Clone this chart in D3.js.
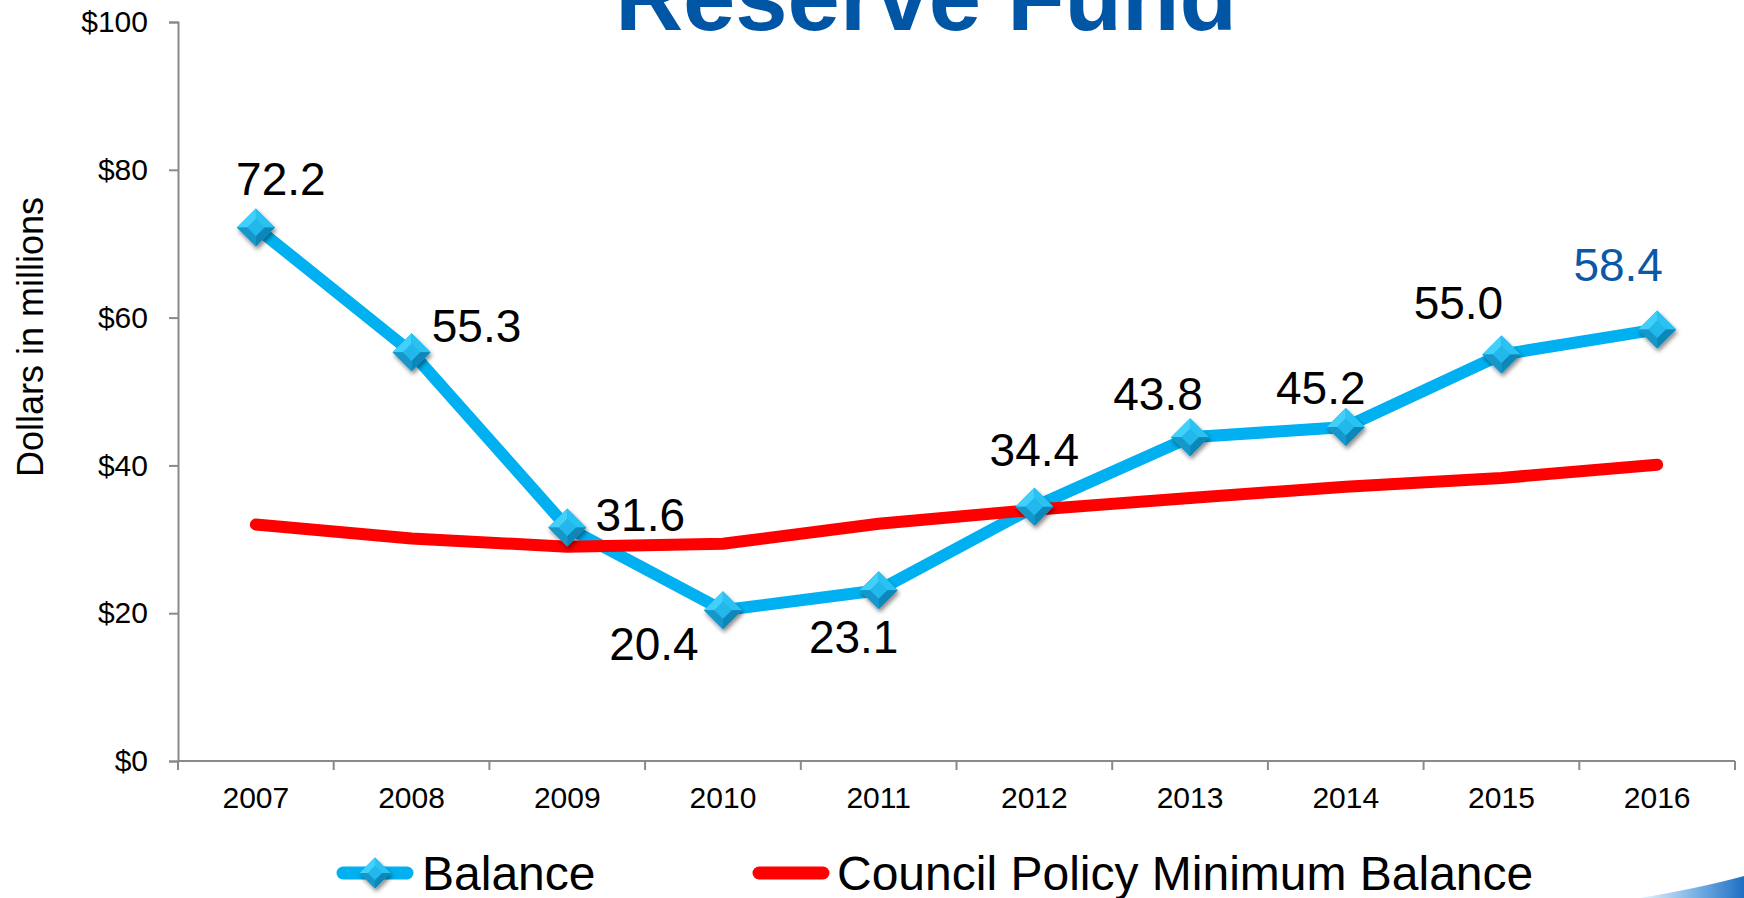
<!DOCTYPE html>
<html>
<head>
<meta charset="utf-8">
<script src="https://cdn.jsdelivr.net/npm/d3@7"></script>
<style>
  html, body { margin: 0; padding: 0; background: #ffffff; }
  svg { display: block; font-family: "Liberation Sans", Arial, sans-serif; }
</style>
</head>
<body>
<svg id="chart" width="1744" height="898"></svg>
<script>
// Reserve fund balance vs. council policy minimum, in millions of dollars
const years = ["2007", "2008", "2009", "2010", "2011", "2012", "2013", "2014", "2015", "2016"];
const balance = [72.2, 55.3, 31.6, 20.4, 23.1, 34.4, 43.8, 45.2, 55.0, 58.4];
const policyMinimum = [32.0, 30.1, 29.0, 29.4, 32.1, 34.0, 35.6, 37.1, 38.3, 40.1];
const yTicks = [0, 20, 40, 60, 80, 100];
const seriesNames = ["Balance", "Council Policy Minimum Balance"];

// Hand-placed label offsets (px) relative to each balance point: [dx, dy to baseline]
const labelNudge = [[25, -32], [65, -10], [73, 4], [-69, 50], [-25, 63],
                    [0, -41], [-32, -27], [-25, -23], [-43, -36], [-39, -48]];

const svg = d3.select("#chart");
const BLUE = "#00B0F0", RED = "#FF0000", AXIS = "#8a8a8a";

const plot = { left: 178, right: 1735, top: 22, bottom: 761 };

const x = d3.scaleBand().domain(years).range([plot.left, plot.right]).padding(0);
const cx = d => x(d) + x.bandwidth() / 2;
const y = d3.scaleLinear().domain([0, 100]).range([plot.bottom, plot.top]);

// defs: marker gradients and shadow
const defs = svg.append("defs");
const sh = defs.append("filter").attr("id", "shadow")
  .attr("x", "-50%").attr("y", "-50%").attr("width", "200%").attr("height", "200%");
sh.append("feDropShadow").attr("dx", 1.5).attr("dy", 3).attr("stdDeviation", 2)
  .attr("flood-color", "#000").attr("flood-opacity", 0.45);

const swg = defs.append("linearGradient").attr("id", "swoosh").attr("x1", 0).attr("x2", 1);
swg.append("stop").attr("offset", 0).attr("stop-color", "#e8f3fb");
swg.append("stop").attr("offset", 0.5).attr("stop-color", "#7fb6e6");
swg.append("stop").attr("offset", 1).attr("stop-color", "#1f6fc4");

// Title
svg.append("text")
  .attr("x", 926).attr("y", 30)
  .attr("text-anchor", "middle")
  .attr("font-size", 94).attr("font-weight", "bold")
  .attr("fill", "#0055A5")
  .text("Reserve Fund");

// Y axis
const yAxis = d3.axisLeft(y).tickValues(yTicks).tickFormat(d => "$" + d)
  .tickSize(9).tickPadding(21);
const gy = svg.append("g").attr("transform", `translate(${plot.left},0)`).call(yAxis);
gy.select(".domain").attr("stroke", AXIS).attr("stroke-width", 2);
gy.selectAll(".tick line").attr("stroke", AXIS).attr("stroke-width", 2);
gy.selectAll(".tick text").attr("font-size", 30).attr("fill", "#000")
  .attr("font-family", "Liberation Sans, Arial, sans-serif");

// X axis: labels centred in bands, ticks on band boundaries
const xAxis = d3.axisBottom(x).tickSize(0).tickPadding(26);
const gx = svg.append("g").attr("transform", `translate(0,${plot.bottom})`).call(xAxis);
gx.select(".domain").remove();
gx.selectAll(".tick text").attr("font-size", 30).attr("fill", "#000")
  .attr("font-family", "Liberation Sans, Arial, sans-serif");
gx.append("line").attr("x1", plot.left).attr("x2", plot.right)
  .attr("stroke", AXIS).attr("stroke-width", 2);
const bounds = years.map(d => x(d)).concat([x.range()[1]]);
gx.selectAll("line.bound").data(bounds).enter().append("line")
  .attr("class", "bound")
  .attr("x1", d => d).attr("x2", d => d).attr("y1", 0).attr("y2", 9)
  .attr("stroke", AXIS).attr("stroke-width", 2);

// Y axis title
svg.append("text")
  .attr("transform", "translate(43,337) rotate(-90)")
  .attr("text-anchor", "middle")
  .attr("font-size", 36).attr("fill", "#000")
  .text("Dollars in millions");

// Lines
const line = d3.line().x(d => cx(d[0])).y(d => y(d[1]));
const balPts = years.map((yr, i) => [yr, balance[i]]);
const minPts = years.map((yr, i) => [yr, policyMinimum[i]]);

svg.append("path").datum(balPts).attr("d", line)
  .attr("fill", "none").attr("stroke", BLUE).attr("stroke-width", 12)
  .attr("stroke-linejoin", "round");
svg.append("path").datum(minPts).attr("d", line)
  .attr("fill", "none").attr("stroke", RED).attr("stroke-width", 12)
  .attr("stroke-linejoin", "round").attr("stroke-linecap", "round");

// Bevelled diamond marker
function diamond(g, size) {
  const r = size / 2, k = r * 0.45;
  const grp = g.append("g").attr("filter", "url(#shadow)");
  grp.append("path").attr("d", `M0,${-r}L${r},0L0,${r}L${-r},0Z`).attr("fill", "#1aa6dc");
  // facets
  grp.append("path").attr("d", `M0,${-r}L${-r},0L${-k},0L0,${-k}Z`).attr("fill", "#3fd0fb");
  grp.append("path").attr("d", `M0,${-r}L${r},0L${k},0L0,${-k}Z`).attr("fill", "#2cc2f2");
  grp.append("path").attr("d", `M0,${r}L${r},0L${k},0L0,${k}Z`).attr("fill", "#0d86b8");
  grp.append("path").attr("d", `M0,${r}L${-r},0L${-k},0L0,${k}Z`).attr("fill", "#1597c9");
  grp.append("path").attr("d", `M0,${-k}L${k},0L0,${k}L${-k},0Z`).attr("fill", "#22b8ec");
  return grp;
}

svg.append("g").selectAll("g.mk").data(balPts).enter().append("g")
  .attr("class", "mk")
  .attr("transform", d => `translate(${cx(d[0])},${y(d[1])})`)
  .each(function () { diamond(d3.select(this), 38); });

// Value labels
svg.append("g").selectAll("text").data(balPts).enter().append("text")
  .attr("x", (d, i) => cx(d[0]) + labelNudge[i][0])
  .attr("y", (d, i) => y(d[1]) + labelNudge[i][1])
  .attr("text-anchor", "middle")
  .attr("font-size", 46)
  .attr("fill", (d, i) => i === balPts.length - 1 ? "#0A58A8" : "#000")
  .text(d => d[1].toFixed(1));

// Legend
const lg = svg.append("g");
lg.append("line").attr("x1", 343).attr("x2", 407).attr("y1", 873).attr("y2", 873)
  .attr("stroke", BLUE).attr("stroke-width", 13).attr("stroke-linecap", "round");
diamond(lg.append("g").attr("transform", "translate(375,873)"), 31);
lg.append("text").attr("x", 422).attr("y", 890).attr("font-size", 48).attr("fill", "#000")
  .text(seriesNames[0]);
lg.append("line").attr("x1", 759).attr("x2", 823).attr("y1", 873).attr("y2", 873)
  .attr("stroke", RED).attr("stroke-width", 13).attr("stroke-linecap", "round");
lg.append("text").attr("x", 837).attr("y", 890).attr("font-size", 48).attr("fill", "#000")
  .text(seriesNames[1]);

// Corner swoosh
svg.append("path")
  .attr("d", "M1640,898 Q1700,888 1744,876 L1744,898 Z")
  .attr("fill", "url(#swoosh)");
</script>
</body>
</html>
